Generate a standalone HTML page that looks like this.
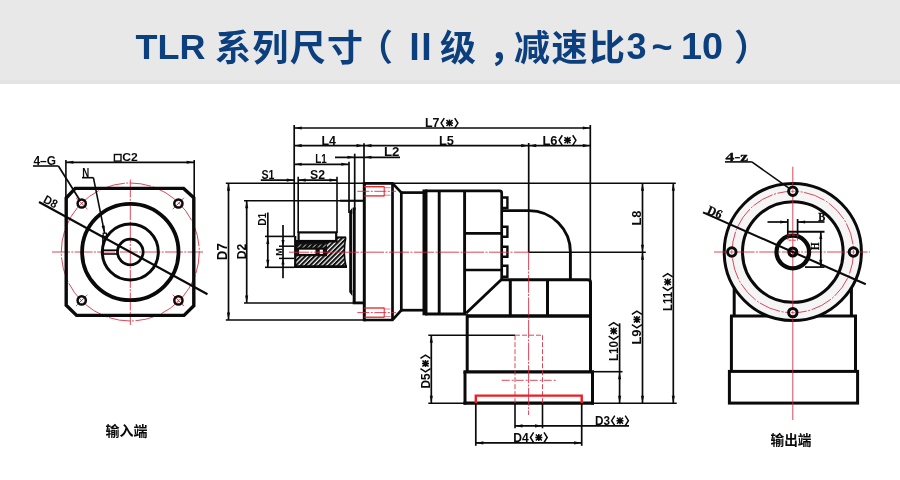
<!DOCTYPE html>
<html lang="zh"><head><meta charset="utf-8"><title>TLR 系列尺寸</title>
<style>
html,body{margin:0;padding:0;background:#fff;}
body{width:900px;height:480px;overflow:hidden;font-family:"Liberation Sans",sans-serif;}
svg{display:block;will-change:transform;}
</style></head><body>
<svg width="900" height="480" viewBox="0 0 900 480">
<rect width="900" height="480" fill="#fff"/>
<rect x="0" y="0" width="900" height="84" fill="#e8e8e8"/>
<rect x="0" y="80" width="900" height="4" fill="#e3e3e3"/>
<g aria-label="TLR 系列尺寸（Ⅱ级，减速比3~10）" font-family="'Liberation Sans', 'Noto Sans CJK SC', sans-serif" font-weight="bold" fill="#0c3f7e">
<text x="135.5" y="58.6" font-size="34.6" textLength="70" lengthAdjust="spacingAndGlyphs">TLR</text>
<text x="215" y="60.5" font-size="36" textLength="148" lengthAdjust="spacing">系列尺寸</text>
<text x="357" y="60.5" font-size="36">（</text>
<text x="402.5" y="59.5" font-size="36">Ⅱ</text>
<text x="440" y="60.5" font-size="36">级</text>
<text x="489" y="60.5" font-size="36">，</text>
<text x="514" y="60.5" font-size="36" textLength="111" lengthAdjust="spacing">减速比</text>
<text x="626.5" y="58.8" font-size="36">3</text>
<text x="651.5" y="58.8" font-size="36">~</text>
<text x="681" y="58.8" font-size="36" textLength="42" lengthAdjust="spacingAndGlyphs">10</text>
<text x="734" y="60.5" font-size="36">）</text>
</g>
<circle cx="130.3" cy="252" r="69" fill="none" stroke="#d3283c" stroke-width="0.85" stroke-dasharray="22 1.5 2 1.5"/>
<line x1="52" y1="252" x2="203" y2="252" stroke="#d3283c" stroke-width="0.85" stroke-dasharray="18 1.3 2 1.3"/>
<line x1="130.3" y1="179.5" x2="130.3" y2="325" stroke="#d3283c" stroke-width="0.85" stroke-dasharray="18 1.3 2 1.3"/>
<line x1="87.36" y1="209.15" x2="76.04" y2="197.85" stroke="#d3283c" stroke-width="0.85"/>
<line x1="172.77" y1="209.18" x2="184.03" y2="197.82" stroke="#d3283c" stroke-width="0.85"/>
<line x1="87.37" y1="294.75" x2="76.03" y2="306.05" stroke="#d3283c" stroke-width="0.85"/>
<line x1="172.76" y1="294.73" x2="184.04" y2="306.07" stroke="#d3283c" stroke-width="0.85"/>
<polygon points="75.2,188.4 183.6,188.4 193.8,197.8 193.8,305.8 184,315.4 76.6,315.4 66.2,305.2 66.2,198" fill="none" stroke="#0a0a0a" stroke-width="3.4" stroke-linejoin="miter"/>
<circle cx="130.3" cy="252" r="48.2" fill="none" stroke="#0a0a0a" stroke-width="3.8"/>
<circle cx="130.3" cy="252" r="28" fill="none" stroke="#0a0a0a" stroke-width="3"/>
<circle cx="130.3" cy="252" r="12.8" fill="none" stroke="#0a0a0a" stroke-width="2.8"/>
<circle cx="81.7" cy="203.5" r="4.1" fill="none" stroke="#0a0a0a" stroke-width="2.5"/>
<line x1="80.1" y1="205.1" x2="83.3" y2="201.9" stroke="#d3283c" stroke-width="0.7"/>
<circle cx="178.4" cy="203.5" r="4.1" fill="none" stroke="#0a0a0a" stroke-width="2.5"/>
<line x1="176.8" y1="205.1" x2="180" y2="201.9" stroke="#d3283c" stroke-width="0.7"/>
<circle cx="81.7" cy="300.4" r="4.1" fill="none" stroke="#0a0a0a" stroke-width="2.5"/>
<line x1="80.1" y1="302" x2="83.3" y2="298.8" stroke="#d3283c" stroke-width="0.7"/>
<circle cx="178.4" cy="300.4" r="4.1" fill="none" stroke="#0a0a0a" stroke-width="2.5"/>
<line x1="176.8" y1="302" x2="180" y2="298.8" stroke="#d3283c" stroke-width="0.7"/>
<line x1="102.5" y1="250.2" x2="117.8" y2="250.2" stroke="#0a0a0a" stroke-width="1.6"/>
<line x1="102.5" y1="254" x2="117.8" y2="254" stroke="#0a0a0a" stroke-width="1.6"/>
<line x1="102.9" y1="235" x2="102.9" y2="254.5" stroke="#0a0a0a" stroke-width="1.6"/>
<rect x="103.2" y="233.2" width="3.2" height="3.2" fill="#fff" stroke="#0a0a0a" stroke-width="1.2"/>
<line x1="39" y1="201.97" x2="207.5" y2="294.31" stroke="#0a0a0a" stroke-width="2.2"/>
<text x="42.5" y="202" font-family="'Liberation Sans', sans-serif" font-size="12" font-weight="bold" text-anchor="start" fill="#0a0a0a" transform="rotate(28.72 42.5 202)" textLength="14" lengthAdjust="spacingAndGlyphs">D8</text>
<text x="82.3" y="176.8" font-family="'Liberation Sans', sans-serif" font-size="12" font-weight="bold" text-anchor="start" fill="#0a0a0a" textLength="7" lengthAdjust="spacingAndGlyphs">N</text>
<line x1="82" y1="177.7" x2="93.4" y2="177.7" stroke="#0a0a0a" stroke-width="1.6"/>
<line x1="93.4" y1="177.7" x2="104.6" y2="233.2" stroke="#0a0a0a" stroke-width="1.6"/>
<polygon points="104.7,233.6 101.55,226.07 104.69,225.44" fill="#0a0a0a"/>
<text x="33.5" y="164.8" font-family="'Liberation Sans', sans-serif" font-size="12" font-weight="bold" text-anchor="start" fill="#0a0a0a" textLength="22.5" lengthAdjust="spacingAndGlyphs">4–G</text>
<line x1="33" y1="166" x2="58.4" y2="166" stroke="#0a0a0a" stroke-width="1.6"/>
<line x1="58.4" y1="166" x2="79.6" y2="199.8" stroke="#0a0a0a" stroke-width="1.7"/>
<line x1="65.9" y1="160" x2="65.9" y2="197" stroke="#0a0a0a" stroke-width="1.6"/>
<line x1="194.2" y1="160" x2="194.2" y2="197" stroke="#0a0a0a" stroke-width="1.6"/>
<line x1="65.9" y1="162.3" x2="194.2" y2="162.3" stroke="#0a0a0a" stroke-width="1.7"/>
<polygon points="66.2,162.3 73.4,160.75 73.4,163.85" fill="#0a0a0a"/>
<polygon points="193.9,162.3 186.7,163.85 186.7,160.75" fill="#0a0a0a"/>
<rect x="114.4" y="154.5" width="6.6" height="6.6" fill="none" stroke="#0a0a0a" stroke-width="1.4"/>
<text x="122.3" y="161.4" font-family="'Liberation Sans', sans-serif" font-size="11.5" font-weight="bold" text-anchor="start" fill="#0a0a0a" textLength="15.5" lengthAdjust="spacingAndGlyphs">C2</text>
<line x1="225.8" y1="183.3" x2="364" y2="183.3" stroke="#0a0a0a" stroke-width="1.6"/>
<line x1="225.8" y1="320" x2="364" y2="320" stroke="#0a0a0a" stroke-width="1.6"/>
<line x1="228.5" y1="183.3" x2="228.5" y2="320" stroke="#0a0a0a" stroke-width="1.7"/>
<polygon points="228.5,183.6 230.05,190.8 226.95,190.8" fill="#0a0a0a"/>
<polygon points="228.5,319.7 226.95,312.5 230.05,312.5" fill="#0a0a0a"/>
<text x="227.4" y="260.2" font-family="'Liberation Sans', sans-serif" font-size="14" font-weight="bold" text-anchor="start" fill="#0a0a0a" transform="rotate(-90 227.4 260.2)" textLength="17" lengthAdjust="spacingAndGlyphs">D7</text>
<line x1="244" y1="200.8" x2="363.5" y2="200.8" stroke="#0a0a0a" stroke-width="1.6"/>
<line x1="244" y1="303" x2="363.5" y2="303" stroke="#0a0a0a" stroke-width="1.6"/>
<line x1="246.7" y1="200.8" x2="246.7" y2="303" stroke="#0a0a0a" stroke-width="1.7"/>
<polygon points="246.7,201.1 248.25,208.3 245.15,208.3" fill="#0a0a0a"/>
<polygon points="246.7,302.7 245.15,295.5 248.25,295.5" fill="#0a0a0a"/>
<text x="245.7" y="259.3" font-family="'Liberation Sans', sans-serif" font-size="12.5" font-weight="bold" text-anchor="start" fill="#0a0a0a" transform="rotate(-90 245.7 259.3)" textLength="15.5" lengthAdjust="spacingAndGlyphs">D2</text>
<line x1="265" y1="236.4" x2="294" y2="236.4" stroke="#0a0a0a" stroke-width="1.6"/>
<line x1="265" y1="267.3" x2="294" y2="267.3" stroke="#0a0a0a" stroke-width="1.6"/>
<line x1="267.8" y1="212.5" x2="267.8" y2="267.3" stroke="#0a0a0a" stroke-width="1.7"/>
<polygon points="267.8,236.7 269.35,243.9 266.25,243.9" fill="#0a0a0a"/>
<polygon points="267.8,267 266.25,259.8 269.35,259.8" fill="#0a0a0a"/>
<text x="265.7" y="225.8" font-family="'Liberation Sans', sans-serif" font-size="11.5" font-weight="bold" text-anchor="start" fill="#0a0a0a" transform="rotate(-90 265.7 225.8)" textLength="13" lengthAdjust="spacingAndGlyphs">D1</text>
<line x1="279" y1="246.2" x2="294" y2="246.2" stroke="#0a0a0a" stroke-width="1.5"/>
<line x1="279" y1="258.4" x2="294" y2="258.4" stroke="#0a0a0a" stroke-width="1.5"/>
<line x1="283" y1="225" x2="283" y2="278.3" stroke="#0a0a0a" stroke-width="1.7"/>
<polygon points="283,246 281.45,240 284.55,240" fill="#0a0a0a"/>
<polygon points="283,258.6 284.55,264.6 281.45,264.6" fill="#0a0a0a"/>
<text x="281.7" y="255.8" font-family="'Liberation Sans', sans-serif" font-size="9.5" font-weight="bold" text-anchor="start" fill="#0a0a0a" transform="rotate(-90 281.7 255.8)" textLength="7.5" lengthAdjust="spacingAndGlyphs">M</text>
<line x1="294.2" y1="125" x2="294.2" y2="236" stroke="#0a0a0a" stroke-width="1.7"/>
<line x1="298.2" y1="176.7" x2="298.2" y2="233" stroke="#0a0a0a" stroke-width="1.6"/>
<line x1="337" y1="176.7" x2="337" y2="233" stroke="#0a0a0a" stroke-width="1.6"/>
<line x1="349" y1="161.7" x2="349" y2="213" stroke="#0a0a0a" stroke-width="1.7"/>
<line x1="354.7" y1="153.7" x2="354.7" y2="210" stroke="#0a0a0a" stroke-width="1.7"/>
<line x1="364" y1="143.3" x2="364" y2="184" stroke="#0a0a0a" stroke-width="1.7"/>
<line x1="528.7" y1="143" x2="528.7" y2="252.2" stroke="#0a0a0a" stroke-width="1.7"/>
<line x1="590.3" y1="125" x2="590.3" y2="281" stroke="#0a0a0a" stroke-width="1.7"/>
<line x1="294.2" y1="128" x2="590.3" y2="128" stroke="#0a0a0a" stroke-width="1.7"/>
<polygon points="294.5,128 301.7,126.45 301.7,129.55" fill="#0a0a0a"/>
<polygon points="590,128 582.8,129.55 582.8,126.45" fill="#0a0a0a"/>
<text x="425" y="127.4" font-family="'Liberation Sans', sans-serif" font-size="12" font-weight="bold" text-anchor="start" fill="#0a0a0a" textLength="14.5" lengthAdjust="spacingAndGlyphs">L7</text>
<polyline points="444.3,118.06 441.1,123.08 444.3,128.1" fill="none" stroke="#0a0a0a" stroke-width="1.5"/>
<path d="M446.5 120.08L452.5 126.08M452.5 120.08L446.5 126.08M446 123.08L453 123.08M449.5 119.58L449.5 126.58" stroke="#0a0a0a" stroke-width="1.5" fill="none"/>
<polyline points="454.7,118.06 457.9,123.08 454.7,128.1" fill="none" stroke="#0a0a0a" stroke-width="1.5"/>
<line x1="294.2" y1="145.6" x2="590.3" y2="145.6" stroke="#0a0a0a" stroke-width="1.7"/>
<polygon points="294.5,145.6 301.7,144.05 301.7,147.15" fill="#0a0a0a"/>
<polygon points="363.7,145.6 356.5,147.15 356.5,144.05" fill="#0a0a0a"/>
<polygon points="364.3,145.6 371.5,144.05 371.5,147.15" fill="#0a0a0a"/>
<polygon points="528.4,145.6 521.2,147.15 521.2,144.05" fill="#0a0a0a"/>
<polygon points="529,145.6 536.2,144.05 536.2,147.15" fill="#0a0a0a"/>
<polygon points="590,145.6 582.8,147.15 582.8,144.05" fill="#0a0a0a"/>
<text x="321.5" y="144.6" font-family="'Liberation Sans', sans-serif" font-size="12" font-weight="bold" text-anchor="start" fill="#0a0a0a" textLength="14.5" lengthAdjust="spacingAndGlyphs">L4</text>
<text x="439" y="144.6" font-family="'Liberation Sans', sans-serif" font-size="12" font-weight="bold" text-anchor="start" fill="#0a0a0a" textLength="15" lengthAdjust="spacingAndGlyphs">L5</text>
<text x="542.5" y="144.6" font-family="'Liberation Sans', sans-serif" font-size="12" font-weight="bold" text-anchor="start" fill="#0a0a0a" textLength="15" lengthAdjust="spacingAndGlyphs">L6</text>
<polyline points="562.3,135.26 559.1,140.28 562.3,145.3" fill="none" stroke="#0a0a0a" stroke-width="1.5"/>
<path d="M564.5 137.28L570.5 143.28M570.5 137.28L564.5 143.28M564 140.28L571 140.28M567.5 136.78L567.5 143.78" stroke="#0a0a0a" stroke-width="1.5" fill="none"/>
<polyline points="572.7,135.26 575.9,140.28 572.7,145.3" fill="none" stroke="#0a0a0a" stroke-width="1.5"/>
<line x1="294.2" y1="164.3" x2="348.8" y2="164.3" stroke="#0a0a0a" stroke-width="1.7"/>
<polygon points="294.5,164.3 301.7,162.75 301.7,165.85" fill="#0a0a0a"/>
<polygon points="348.5,164.3 341.3,165.85 341.3,162.75" fill="#0a0a0a"/>
<text x="315.3" y="163.3" font-family="'Liberation Sans', sans-serif" font-size="12" font-weight="bold" text-anchor="start" fill="#0a0a0a" textLength="11.5" lengthAdjust="spacingAndGlyphs">L1</text>
<line x1="335" y1="157.3" x2="400" y2="157.3" stroke="#0a0a0a" stroke-width="1.7"/>
<polygon points="354.7,157.3 347.5,158.85 347.5,155.75" fill="#0a0a0a"/>
<polygon points="364.3,157.3 371.5,155.75 371.5,158.85" fill="#0a0a0a"/>
<text x="384" y="156.3" font-family="'Liberation Sans', sans-serif" font-size="12" font-weight="bold" text-anchor="start" fill="#0a0a0a" textLength="15.5" lengthAdjust="spacingAndGlyphs">L2</text>
<line x1="260.8" y1="180.1" x2="294.2" y2="180.1" stroke="#0a0a0a" stroke-width="1.7"/>
<polygon points="293.9,180.1 286.7,181.65 286.7,178.55" fill="#0a0a0a"/>
<text x="261.5" y="179" font-family="'Liberation Sans', sans-serif" font-size="12" font-weight="bold" text-anchor="start" fill="#0a0a0a" textLength="13" lengthAdjust="spacingAndGlyphs">S1</text>
<line x1="298.2" y1="180.1" x2="337" y2="180.1" stroke="#0a0a0a" stroke-width="1.7"/>
<polygon points="298.5,180.1 305.7,178.55 305.7,181.65" fill="#0a0a0a"/>
<polygon points="336.7,180.1 329.5,181.65 329.5,178.55" fill="#0a0a0a"/>
<text x="310" y="179" font-family="'Liberation Sans', sans-serif" font-size="12" font-weight="bold" text-anchor="start" fill="#0a0a0a" textLength="15" lengthAdjust="spacingAndGlyphs">S2</text>
<line x1="364" y1="183.3" x2="675.8" y2="183.3" stroke="#0a0a0a" stroke-width="1.6"/>
<line x1="528.7" y1="252.2" x2="645.8" y2="252.2" stroke="#0a0a0a" stroke-width="1.6"/>
<line x1="642.5" y1="183.3" x2="642.5" y2="403.3" stroke="#0a0a0a" stroke-width="1.7"/>
<polygon points="642.5,183.6 644.05,190.8 640.95,190.8" fill="#0a0a0a"/>
<polygon points="642.5,251.9 640.95,244.7 644.05,244.7" fill="#0a0a0a"/>
<polygon points="642.5,252.5 644.05,259.7 640.95,259.7" fill="#0a0a0a"/>
<polygon points="642.5,403 640.95,395.8 644.05,395.8" fill="#0a0a0a"/>
<text x="641.2" y="225.5" font-family="'Liberation Sans', sans-serif" font-size="12" font-weight="bold" text-anchor="start" fill="#0a0a0a" transform="rotate(-90 641.2 225.5)" textLength="15" lengthAdjust="spacingAndGlyphs">L8</text>
<g transform="rotate(-90 641.2 344.5)">
<text x="641.2" y="344.5" font-family="'Liberation Sans', sans-serif" font-size="12" font-weight="bold" text-anchor="start" fill="#0a0a0a" textLength="15" lengthAdjust="spacingAndGlyphs">L9</text>
<polyline points="661,335.16 657.8,340.18 661,345.2" fill="none" stroke="#0a0a0a" stroke-width="1.5"/>
<path d="M663.2 337.18L669.2 343.18M669.2 337.18L663.2 343.18M662.7 340.18L669.7 340.18M666.2 336.68L666.2 343.68" stroke="#0a0a0a" stroke-width="1.5" fill="none"/>
<polyline points="671.4,335.16 674.6,340.18 671.4,345.2" fill="none" stroke="#0a0a0a" stroke-width="1.5"/>
</g>
<line x1="673.3" y1="183.3" x2="673.3" y2="403.3" stroke="#0a0a0a" stroke-width="1.7"/>
<polygon points="673.3,183.6 674.85,190.8 671.75,190.8" fill="#0a0a0a"/>
<polygon points="673.3,403 671.75,395.8 674.85,395.8" fill="#0a0a0a"/>
<g transform="rotate(-90 672 311)">
<text x="672" y="311" font-family="'Liberation Sans', sans-serif" font-size="12" font-weight="bold" text-anchor="start" fill="#0a0a0a" textLength="19" lengthAdjust="spacingAndGlyphs">L11</text>
<polyline points="695.8,301.66 692.6,306.68 695.8,311.7" fill="none" stroke="#0a0a0a" stroke-width="1.5"/>
<path d="M698 303.68L704 309.68M704 303.68L698 309.68M697.5 306.68L704.5 306.68M701 303.18L701 310.18" stroke="#0a0a0a" stroke-width="1.5" fill="none"/>
<polyline points="706.2,301.66 709.4,306.68 706.2,311.7" fill="none" stroke="#0a0a0a" stroke-width="1.5"/>
</g>
<line x1="619.6" y1="323.3" x2="619.6" y2="403.3" stroke="#0a0a0a" stroke-width="1.7"/>
<polygon points="619.6,372 621.15,379.2 618.05,379.2" fill="#0a0a0a"/>
<polygon points="619.6,403 618.05,395.8 621.15,395.8" fill="#0a0a0a"/>
<g transform="rotate(-90 618 361)">
<text x="618" y="361" font-family="'Liberation Sans', sans-serif" font-size="12" font-weight="bold" text-anchor="start" fill="#0a0a0a" textLength="20" lengthAdjust="spacingAndGlyphs">L10</text>
<polyline points="642.8,351.66 639.6,356.68 642.8,361.7" fill="none" stroke="#0a0a0a" stroke-width="1.5"/>
<path d="M645 353.68L651 359.68M651 353.68L645 359.68M644.5 356.68L651.5 356.68M648 353.18L648 360.18" stroke="#0a0a0a" stroke-width="1.5" fill="none"/>
<polyline points="653.2,351.66 656.4,356.68 653.2,361.7" fill="none" stroke="#0a0a0a" stroke-width="1.5"/>
</g>
<line x1="592.5" y1="403.3" x2="676.7" y2="403.3" stroke="#0a0a0a" stroke-width="1.6"/>
<line x1="592.5" y1="371.7" x2="622.5" y2="371.7" stroke="#0a0a0a" stroke-width="1.6"/>
<line x1="428.3" y1="335.2" x2="515" y2="335.2" stroke="#0a0a0a" stroke-width="1.6"/>
<line x1="428.3" y1="403.3" x2="465" y2="403.3" stroke="#0a0a0a" stroke-width="1.6"/>
<line x1="431.3" y1="335.2" x2="431.3" y2="403.3" stroke="#0a0a0a" stroke-width="1.7"/>
<polygon points="431.3,335.5 432.85,342.7 429.75,342.7" fill="#0a0a0a"/>
<polygon points="431.3,403 429.75,395.8 432.85,395.8" fill="#0a0a0a"/>
<g transform="rotate(-90 429.8 388.5)">
<text x="429.8" y="388.5" font-family="'Liberation Sans', sans-serif" font-size="12" font-weight="bold" text-anchor="start" fill="#0a0a0a" textLength="15" lengthAdjust="spacingAndGlyphs">D5</text>
<polyline points="449.6,379.16 446.4,384.18 449.6,389.2" fill="none" stroke="#0a0a0a" stroke-width="1.5"/>
<path d="M451.8 381.18L457.8 387.18M457.8 381.18L451.8 387.18M451.3 384.18L458.3 384.18M454.8 380.68L454.8 387.68" stroke="#0a0a0a" stroke-width="1.5" fill="none"/>
<polyline points="460,379.16 463.2,384.18 460,389.2" fill="none" stroke="#0a0a0a" stroke-width="1.5"/>
</g>
<line x1="515" y1="403" x2="515" y2="428.3" stroke="#0a0a0a" stroke-width="1.6"/>
<line x1="542.5" y1="403" x2="542.5" y2="428.3" stroke="#0a0a0a" stroke-width="1.6"/>
<line x1="515" y1="425.9" x2="629" y2="425.9" stroke="#0a0a0a" stroke-width="1.7"/>
<polygon points="515.3,425.9 522.5,424.35 522.5,427.45" fill="#0a0a0a"/>
<polygon points="542.2,425.9 535,427.45 535,424.35" fill="#0a0a0a"/>
<text x="595" y="425" font-family="'Liberation Sans', sans-serif" font-size="12" font-weight="bold" text-anchor="start" fill="#0a0a0a" textLength="15" lengthAdjust="spacingAndGlyphs">D3</text>
<polyline points="614.8,415.66 611.6,420.68 614.8,425.7" fill="none" stroke="#0a0a0a" stroke-width="1.5"/>
<path d="M617 417.68L623 423.68M623 417.68L617 423.68M616.5 420.68L623.5 420.68M620 417.18L620 424.18" stroke="#0a0a0a" stroke-width="1.5" fill="none"/>
<polyline points="625.2,415.66 628.4,420.68 625.2,425.7" fill="none" stroke="#0a0a0a" stroke-width="1.5"/>
<line x1="475.8" y1="403" x2="475.8" y2="445.8" stroke="#0a0a0a" stroke-width="1.7"/>
<line x1="581.7" y1="403" x2="581.7" y2="445.8" stroke="#0a0a0a" stroke-width="1.7"/>
<line x1="475.8" y1="442.9" x2="581.7" y2="442.9" stroke="#0a0a0a" stroke-width="1.7"/>
<polygon points="476.1,442.9 483.3,441.35 483.3,444.45" fill="#0a0a0a"/>
<polygon points="581.4,442.9 574.2,444.45 574.2,441.35" fill="#0a0a0a"/>
<text x="513.3" y="441.8" font-family="'Liberation Sans', sans-serif" font-size="12" font-weight="bold" text-anchor="start" fill="#0a0a0a" textLength="15.5" lengthAdjust="spacingAndGlyphs">D4</text>
<polyline points="533.6,432.46 530.4,437.48 533.6,442.5" fill="none" stroke="#0a0a0a" stroke-width="1.5"/>
<path d="M535.8 434.48L541.8 440.48M541.8 434.48L535.8 440.48M535.3 437.48L542.3 437.48M538.8 433.98L538.8 440.98" stroke="#0a0a0a" stroke-width="1.5" fill="none"/>
<polyline points="544,432.46 547.2,437.48 544,442.5" fill="none" stroke="#0a0a0a" stroke-width="1.5"/>
<defs><pattern id="h" width="3.3" height="3.3" patternUnits="userSpaceOnUse" patternTransform="rotate(-45)"><rect width="3.3" height="3.3" fill="#fff"/><rect width="3.3" height="2.1" fill="#111"/></pattern></defs>
<path d="M295 241 L337 241 L337 237.6 L345.5 237.6 Q342.5 252 345.8 266.5 L295 266.5 Z" fill="url(#h)" stroke="none"/>
<rect x="295" y="241" width="32" height="7.6" fill="#111"/>
<path d="M298 247.5l3-3M303 247.5l3-3M308 247.5l3-3M313 247.5l3-3M318 247.5l3-3M323 247.5l3-3" stroke="#fff" stroke-width="0.9"/>
<rect x="295" y="248" width="32" height="8.2" fill="#111"/>
<line x1="294.2" y1="266.6" x2="347" y2="266.6" stroke="#0a0a0a" stroke-width="2.8"/>
<line x1="295.2" y1="236" x2="295.2" y2="268" stroke="#0a0a0a" stroke-width="2.2"/>
<line x1="337" y1="237.4" x2="346" y2="237.4" stroke="#0a0a0a" stroke-width="2"/>
<path d="M345.8 237.4 Q342.8 252 346 266.5" fill="none" stroke="#0a0a0a" stroke-width="1.6"/>
<rect x="298.6" y="232.4" width="37.6" height="8.6" fill="#fff" stroke="#0a0a0a" stroke-width="2.2"/>
<line x1="295" y1="241.2" x2="337.5" y2="241.2" stroke="#0a0a0a" stroke-width="2.4"/>
<rect x="298.4" y="249" width="17.8" height="5.6" fill="#fff" stroke="#0a0a0a" stroke-width="1.4"/>
<rect x="319" y="249" width="4.6" height="5.6" fill="#fff" stroke="#0a0a0a" stroke-width="1.4"/>
<path d="M349.2 211.6L352.2 208L352.2 296L349.2 292Z M352.7 207.5h3v95.5h-3z" fill="#0a0a0a"/>
<line x1="352.45" y1="214" x2="352.45" y2="290" stroke="#fff" stroke-width="0.5"/>
<line x1="340" y1="200.7" x2="364" y2="200.7" stroke="#0a0a0a" stroke-width="2"/>
<line x1="352.7" y1="302.9" x2="364" y2="302.9" stroke="#0a0a0a" stroke-width="2.8"/>
<line x1="364.3" y1="182" x2="364.3" y2="321.3" stroke="#0a0a0a" stroke-width="3"/>
<polyline points="364,183.4 392.5,183.4 401.4,192.6" fill="none" stroke="#0a0a0a" stroke-width="2.7" stroke-linejoin="miter"/>
<polyline points="364,320 392.5,320 401.2,310.4" fill="none" stroke="#0a0a0a" stroke-width="2.7" stroke-linejoin="miter"/>
<line x1="392.5" y1="183.4" x2="392.5" y2="320" stroke="#0a0a0a" stroke-width="2.7"/>
<line x1="401.3" y1="191.5" x2="401.3" y2="311.5" stroke="#0a0a0a" stroke-width="2.7"/>
<line x1="401.3" y1="192.6" x2="423" y2="192.6" stroke="#0a0a0a" stroke-width="2.7"/>
<line x1="401.3" y1="310.2" x2="423" y2="310.2" stroke="#0a0a0a" stroke-width="2.7"/>
<line x1="425" y1="189.5" x2="425" y2="315.3" stroke="#0a0a0a" stroke-width="5"/>
<path d="M425 190.9 L499.5 190.9 Q501.7 190.9 501.7 193 L501.7 280" fill="none" stroke="#0a0a0a" stroke-width="2.7"/>
<line x1="425" y1="314" x2="466" y2="314" stroke="#0a0a0a" stroke-width="2.8"/>
<line x1="439.2" y1="190.9" x2="439.2" y2="314" stroke="#0a0a0a" stroke-width="2.9"/>
<line x1="464.6" y1="190.9" x2="464.6" y2="315" stroke="#0a0a0a" stroke-width="2.9"/>
<line x1="464.6" y1="233.3" x2="501.7" y2="233.3" stroke="#0a0a0a" stroke-width="2.7"/>
<line x1="464.6" y1="270" x2="501.7" y2="270" stroke="#0a0a0a" stroke-width="2.7"/>
<polyline points="502,197.5 507.4,197.5 507.4,208 502,208" fill="none" stroke="#0a0a0a" stroke-width="2.4" stroke-linejoin="miter"/>
<polyline points="502,226.7 507.4,226.7 507.4,236.7 502,236.7" fill="none" stroke="#0a0a0a" stroke-width="2.4" stroke-linejoin="miter"/>
<polyline points="502,246.7 507.4,246.7 507.4,256.7 502,256.7" fill="none" stroke="#0a0a0a" stroke-width="2.4" stroke-linejoin="miter"/>
<polyline points="502,265.8 507.4,265.8 507.4,276.7 502,276.7" fill="none" stroke="#0a0a0a" stroke-width="2.4" stroke-linejoin="miter"/>
<path d="M502 210.6 L529 210.6 A41.4 41.4 0 0 1 570.4 252 L570.4 280" fill="none" stroke="#0a0a0a" stroke-width="2.9"/>
<path d="M500.6 279.8 L587.5 279.8 Q590.5 279.8 590.5 282.5 L590.5 372" fill="none" stroke="#0a0a0a" stroke-width="3"/>
<line x1="466" y1="316" x2="590.5" y2="316" stroke="#0a0a0a" stroke-width="3.3"/>
<line x1="510.3" y1="280" x2="510.3" y2="316" stroke="#0a0a0a" stroke-width="3"/>
<line x1="547.5" y1="280" x2="547.5" y2="316" stroke="#0a0a0a" stroke-width="3"/>
<line x1="501.2" y1="279.8" x2="466" y2="313.2" stroke="#0a0a0a" stroke-width="2.8"/>
<line x1="467.2" y1="314.5" x2="467.2" y2="372" stroke="#0a0a0a" stroke-width="3"/>
<line x1="463.4" y1="371.8" x2="594" y2="371.8" stroke="#0a0a0a" stroke-width="3.3"/>
<line x1="465" y1="371.8" x2="465" y2="404.6" stroke="#0a0a0a" stroke-width="3"/>
<line x1="592.5" y1="371.8" x2="592.5" y2="404.6" stroke="#0a0a0a" stroke-width="3"/>
<line x1="463.5" y1="403.1" x2="594" y2="403.1" stroke="#0a0a0a" stroke-width="3.2"/>
<polyline points="475.8,403 475.8,395.6 581.7,395.6 581.7,403" fill="none" stroke="#ee1c24" stroke-width="2.4" stroke-linejoin="miter"/>
<line x1="515" y1="335.2" x2="515" y2="403" stroke="#d3283c" stroke-width="0.85" stroke-dasharray="5 2"/>
<line x1="542.5" y1="335.2" x2="542.5" y2="403" stroke="#d3283c" stroke-width="0.85" stroke-dasharray="5 2"/>
<line x1="515" y1="335.2" x2="542.5" y2="335.2" stroke="#d3283c" stroke-width="0.85" stroke-dasharray="5 2"/>
<line x1="528.6" y1="252.2" x2="528.6" y2="415" stroke="#d3283c" stroke-width="0.85" stroke-dasharray="18 1.3 2 1.3"/>
<line x1="501.7" y1="380.3" x2="555.8" y2="380.3" stroke="#d3283c" stroke-width="0.85" stroke-dasharray="8 2 2 2"/>
<line x1="289" y1="252.2" x2="528.6" y2="252.2" stroke="#d3283c" stroke-width="0.85" stroke-dasharray="20 1.5 2 1.5"/>
<line x1="364.3" y1="186.7" x2="384.2" y2="186.7" stroke="#ee1c24" stroke-width="1.3"/>
<line x1="364.3" y1="195.9" x2="384.2" y2="195.9" stroke="#ee1c24" stroke-width="1.3"/>
<line x1="384.2" y1="186.3" x2="384.2" y2="196.3" stroke="#ee1c24" stroke-width="1"/>
<line x1="384.2" y1="187.7" x2="390.5" y2="187.7" stroke="#d3283c" stroke-width="0.6"/>
<line x1="384.2" y1="195.2" x2="390.5" y2="195.2" stroke="#d3283c" stroke-width="0.6"/>
<line x1="357.3" y1="191.3" x2="396" y2="191.3" stroke="#d3283c" stroke-width="0.85" stroke-dasharray="12 1.5 2 1.5"/>
<line x1="364.3" y1="308" x2="384.2" y2="308" stroke="#ee1c24" stroke-width="1.3"/>
<line x1="364.3" y1="317.2" x2="384.2" y2="317.2" stroke="#ee1c24" stroke-width="1.3"/>
<line x1="384.2" y1="307.6" x2="384.2" y2="317.6" stroke="#ee1c24" stroke-width="1"/>
<line x1="384.2" y1="309" x2="390.5" y2="309" stroke="#d3283c" stroke-width="0.6"/>
<line x1="384.2" y1="316.5" x2="390.5" y2="316.5" stroke="#d3283c" stroke-width="0.6"/>
<line x1="357.3" y1="312.6" x2="396" y2="312.6" stroke="#d3283c" stroke-width="0.85" stroke-dasharray="12 1.5 2 1.5"/>
<line x1="734.2" y1="284" x2="734.2" y2="316" stroke="#0a0a0a" stroke-width="3"/>
<line x1="851.4" y1="284" x2="851.4" y2="316" stroke="#0a0a0a" stroke-width="3"/>
<line x1="730" y1="315.9" x2="775" y2="315.9" stroke="#0a0a0a" stroke-width="3"/>
<line x1="810" y1="315.9" x2="857" y2="315.9" stroke="#0a0a0a" stroke-width="3"/>
<line x1="731.4" y1="315.9" x2="731.4" y2="371.5" stroke="#0a0a0a" stroke-width="3"/>
<line x1="855.5" y1="315.9" x2="855.5" y2="371.5" stroke="#0a0a0a" stroke-width="3"/>
<rect x="729.4" y="371.4" width="128.2" height="31.7" fill="none" stroke="#0a0a0a" stroke-width="3"/>
<circle cx="792.8" cy="252" r="68.6" fill="#f5f5f5" stroke="#0a0a0a" stroke-width="3"/>
<circle cx="792.8" cy="252" r="50.3" fill="#fff" stroke="#0a0a0a" stroke-width="3"/>
<circle cx="792.8" cy="252" r="60.7" fill="none" stroke="#d3283c" stroke-width="0.85" stroke-dasharray="22 1.5 2 1.5"/>
<line x1="714" y1="252" x2="870" y2="252" stroke="#d3283c" stroke-width="0.85" stroke-dasharray="18 1.3 2 1.3"/>
<line x1="792.8" y1="166.7" x2="792.8" y2="420" stroke="#d3283c" stroke-width="0.85"/>
<circle cx="792.8" cy="191.3" r="4.2" fill="#fff" stroke="#0a0a0a" stroke-width="3"/>
<line x1="790.8" y1="191.3" x2="794.8" y2="191.3" stroke="#d3283c" stroke-width="0.7"/>
<line x1="792.8" y1="189.3" x2="792.8" y2="193.3" stroke="#d3283c" stroke-width="0.7"/>
<circle cx="731.8" cy="252" r="4.2" fill="#fff" stroke="#0a0a0a" stroke-width="3"/>
<line x1="729.8" y1="252" x2="733.8" y2="252" stroke="#d3283c" stroke-width="0.7"/>
<line x1="731.8" y1="250" x2="731.8" y2="254" stroke="#d3283c" stroke-width="0.7"/>
<circle cx="853.4" cy="252" r="4.2" fill="#fff" stroke="#0a0a0a" stroke-width="3"/>
<line x1="851.4" y1="252" x2="855.4" y2="252" stroke="#d3283c" stroke-width="0.7"/>
<line x1="853.4" y1="250" x2="853.4" y2="254" stroke="#d3283c" stroke-width="0.7"/>
<circle cx="792.8" cy="312.6" r="4.2" fill="#fff" stroke="#0a0a0a" stroke-width="3"/>
<line x1="790.8" y1="312.6" x2="794.8" y2="312.6" stroke="#d3283c" stroke-width="0.7"/>
<line x1="792.8" y1="310.6" x2="792.8" y2="314.6" stroke="#d3283c" stroke-width="0.7"/>
<circle cx="792.8" cy="252" r="16.3" fill="none" stroke="#0a0a0a" stroke-width="4.2"/>
<circle cx="792.8" cy="252" r="3.9" fill="none" stroke="#0a0a0a" stroke-width="3.2"/>
<line x1="789.8" y1="252" x2="795.8" y2="252" stroke="#d3283c" stroke-width="0.85"/>
<line x1="792.8" y1="249" x2="792.8" y2="255" stroke="#d3283c" stroke-width="0.85"/>
<line x1="787.8" y1="219" x2="787.8" y2="235" stroke="#0a0a0a" stroke-width="1.7"/>
<line x1="797.6" y1="219" x2="797.6" y2="235" stroke="#0a0a0a" stroke-width="1.7"/>
<rect x="787.8" y="235" width="9.8" height="5.2" fill="none" stroke="#ee1c24" stroke-width="0.9" stroke-dasharray="3 1.2"/>
<line x1="767.5" y1="222" x2="787.8" y2="222" stroke="#0a0a0a" stroke-width="1.7"/>
<polygon points="787.5,222 780.3,223.55 780.3,220.45" fill="#0a0a0a"/>
<line x1="797.6" y1="222" x2="824.5" y2="222" stroke="#0a0a0a" stroke-width="1.7"/>
<polygon points="797.9,222 805.1,220.45 805.1,223.55" fill="#0a0a0a"/>
<text x="818.2" y="221.4" font-family="'Liberation Serif', sans-serif" font-size="12" font-weight="bold" text-anchor="start" fill="#0a0a0a" stroke="#0a0a0a" stroke-width="0.3" textLength="7" lengthAdjust="spacingAndGlyphs">B</text>
<line x1="787.8" y1="231.8" x2="824.5" y2="231.8" stroke="#0a0a0a" stroke-width="2"/>
<line x1="805" y1="267.1" x2="824.5" y2="267.1" stroke="#0a0a0a" stroke-width="1.7"/>
<line x1="820.8" y1="231.8" x2="820.8" y2="267.1" stroke="#0a0a0a" stroke-width="1.7"/>
<polygon points="820.8,232.1 822.35,239.1 819.25,239.1" fill="#0a0a0a"/>
<polygon points="820.8,266.8 819.25,259.8 822.35,259.8" fill="#0a0a0a"/>
<text x="819.2" y="250" font-family="'Liberation Serif', sans-serif" font-size="11.5" font-weight="bold" text-anchor="start" fill="#0a0a0a" stroke="#0a0a0a" stroke-width="0.3" transform="rotate(-90 819.2 250)" textLength="7.5" lengthAdjust="spacingAndGlyphs">H</text>
<line x1="703" y1="212.4" x2="865.8" y2="284.19" stroke="#0a0a0a" stroke-width="2.1"/>
<text x="706.3" y="213" font-family="'Liberation Serif', sans-serif" font-size="12.5" font-weight="bold" text-anchor="start" fill="#0a0a0a" stroke="#0a0a0a" stroke-width="0.3" transform="rotate(23.8 706.3 213)" textLength="15" lengthAdjust="spacingAndGlyphs">D6</text>
<text x="725.6" y="160.6" font-family="'Liberation Serif', sans-serif" font-size="13" font-weight="bold" text-anchor="start" fill="#0a0a0a" stroke="#0a0a0a" stroke-width="0.3" textLength="22.5" lengthAdjust="spacingAndGlyphs">4-z</text>
<line x1="725" y1="161.9" x2="751.8" y2="161.9" stroke="#0a0a0a" stroke-width="1.6"/>
<line x1="751.8" y1="161.9" x2="789.6" y2="188.6" stroke="#0a0a0a" stroke-width="1.6"/>
<text x="105.5" y="435.5" font-family="'Liberation Sans', 'Noto Sans CJK SC', sans-serif" font-size="14" font-weight="bold" text-anchor="start" fill="#0a0a0a" textLength="42" lengthAdjust="spacingAndGlyphs">输入端</text>
<text x="770.5" y="444.8" font-family="'Liberation Sans', 'Noto Sans CJK SC', sans-serif" font-size="14" font-weight="bold" text-anchor="start" fill="#0a0a0a" textLength="41" lengthAdjust="spacingAndGlyphs">输出端</text>
</svg>
</body></html>
